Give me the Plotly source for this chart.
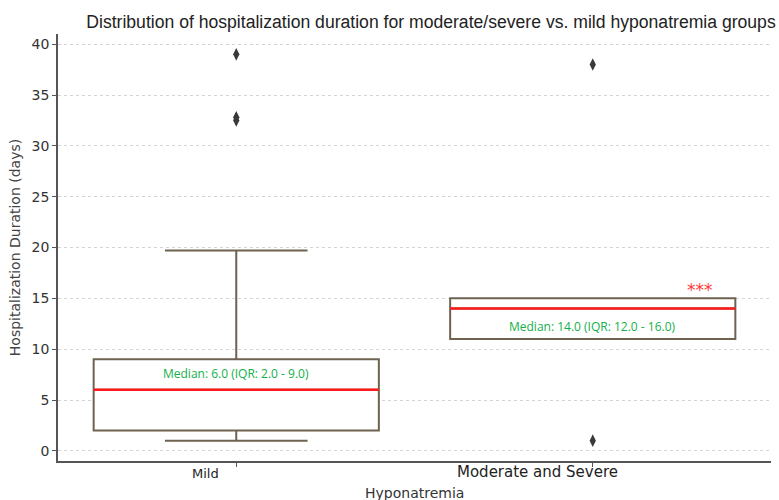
import plotly.graph_objects as go

categories = ["Mild", "Moderate and Severe"]
q1 = [2.0, 11.0]
median = [6.0, 14.0]
q3 = [9.0, 15.0]
lower_fence = [1.0, 11.0]
upper_fence = [19.7, 15.0]
outliers = [[39.0, 32.8, 32.5], [38.0, 1.0]]
labels = ["Median: 6.0 (IQR: 2.0 - 9.0)", "Median: 14.0 (IQR: 12.0 - 16.0)"]
label_y = [7.6, 12.2]
y_ticks = [0, 5, 10, 15, 20, 25, 30, 35, 40]

box_w = 0.8
pos = list(range(len(categories)))
line_col = "#6e6250"

fig = go.Figure()
for i, c in enumerate(categories):
    fig.add_trace(go.Box(
        x=[pos[i]], q1=[q1[i]], median=[median[i]], q3=[q3[i]],
        lowerfence=[lower_fence[i]], upperfence=[upper_fence[i]],
        width=box_w, whiskerwidth=0.5, fillcolor="white",
        line=dict(color=line_col, width=2), boxpoints=False,
        showlegend=False, hoverinfo="skip"))
    fig.add_trace(go.Scatter(
        x=[pos[i] - box_w / 2, pos[i] + box_w / 2], y=[median[i], median[i]],
        mode="lines", line=dict(color="#ff1a1a", width=2.5),
        showlegend=False, hoverinfo="skip"))
    fig.add_trace(go.Scatter(
        x=[pos[i]] * len(outliers[i]), y=outliers[i], mode="markers",
        marker=dict(symbol="diamond-tall", size=9, color="#3a3a3a"),
        showlegend=False, hoverinfo="skip"))
    fig.add_annotation(x=pos[i], y=label_y[i], text=labels[i], showarrow=False,
                       font=dict(family="Open Sans", size=12, color="#12b04a"))

# category labels (drawn as annotations to match the reference placement and sizes)
cat_x = [-0.085, 0.845]
cat_size = [13, 15]
cat_shift = [-3, 0]
for i, c in enumerate(categories):
    fig.add_annotation(x=cat_x[i], y=0, yref="paper", yanchor="top", yshift=cat_shift[i],
                       text=c, showarrow=False,
                       font=dict(family="DejaVu Sans", size=cat_size[i], color="#222"))

fig.add_annotation(x=pos[1] + 0.3, y=q3[1], text="***", showarrow=False,
                   yanchor="bottom", yshift=-4,
                   font=dict(family="DejaVu Sans", size=17, color="#ff3b3b"))

fig.add_annotation(x=0.5, xref="paper", y=0, yref="paper", yanchor="top", yshift=-22,
                   text="Hyponatremia", showarrow=False,
                   font=dict(family="DejaVu Sans", size=14, color="#333"))

fig.update_layout(
    width=779, height=500,
    margin=dict(l=58, r=8, t=34, b=39),
    paper_bgcolor="white", plot_bgcolor="white",
    title=dict(text="Distribution of hospitalization duration for moderate/severe vs. mild hyponatremia groups",
               x=431 / 779, xanchor="center", xref="container",
               y=1 - 22 / 500, yanchor="middle", yref="container",
               font=dict(family="Liberation Sans", size=17.6, color="#222")),
    font=dict(family="DejaVu Sans", color="#333"),
)
fig.update_xaxes(
    range=[-0.5, 1.5], tickvals=pos, ticktext=["", ""],
    ticks="outside", ticklen=4, tickcolor="#555", showgrid=False,
    showline=True, linecolor="#555", linewidth=1.5, automargin=False,
    zeroline=False)
fig.update_yaxes(
    range=[-1, 41], tickvals=y_ticks, ticks="outside", ticklen=4, tickcolor="#555",
    showline=True, linecolor="#555", linewidth=1.5, automargin=False,
    showgrid=True, gridcolor="#d4d4d4", griddash="dot", gridwidth=1,
    tickfont=dict(family="DejaVu Sans", size=14, color="#333"),
    title=dict(text="Hospitalization Duration (days)", standoff=8, font=dict(family="DejaVu Sans", size=14, color="#444")),
    zeroline=False)

fig.write_html("out.html", post_script="document.body.style.margin='0';",
               config={"displayModeBar": False})
